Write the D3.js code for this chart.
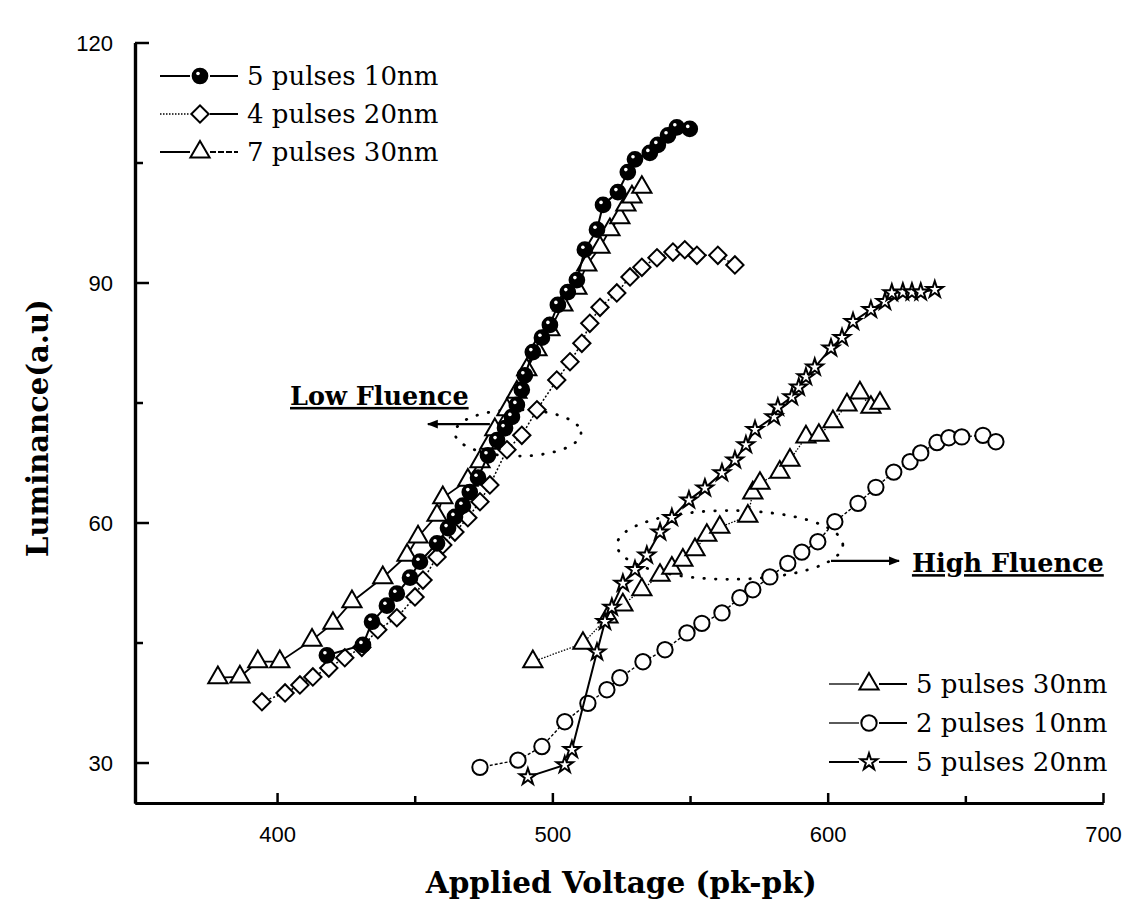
<!DOCTYPE html>
<html>
<head>
<meta charset="utf-8">
<script src="https://cdn.jsdelivr.net/npm/d3@7"></script>
<style>
    body { margin: 0; background: #fff; }
    .tick text { font-family: "Liberation Sans", Arial, sans-serif; font-size: 22px; fill: #000; }
    .serif { font-family: "DejaVu Serif", serif; fill: #000; }
</style>
</head>
<body>
<div id="viz"></div>
<script>
// ---- values: [voltage, luminance] ----
var pulses5_10nm = [[418.1,43.4],[431.2,44.7],[434.5,47.6],[439.9,49.6],[443.5,51.1],[448.3,53.1],
    [451.9,55.1],[458.1,57.4],[462.1,59.3],[464.6,60.7],[467.5,62.1],[470.0,63.8],[473.0,65.6],
    [476.6,68.4],[479.9,70.3],[482.8,71.8],[485.3,73.2],[487.1,74.7],[488.9,76.6],[490.0,78.4],
    [492.9,81.3],[496.2,83.1],[499.1,84.7],[502.0,87.2],[505.6,88.8],[508.9,90.3],[511.8,94.1],
    [516.2,96.6],[518.4,99.7],[523.8,101.3],[527.4,103.8],[530.0,105.4],[535.4,106.2],[538.3,107.2],
    [542.0,108.4],[545.2,109.4],[549.9,109.2]];
var pulses4_20nm = [[394.5,37.6],[402.9,38.7],[408.3,39.7],[413.0,40.7],[418.8,41.8],[424.6,43.1],
    [430.8,44.4],[436.6,46.6],[443.5,48.1],[450.1,50.7],[453.0,52.8],[458.1,55.7],[460.2,57.2],
    [464.6,58.8],[469.3,60.6],[473.7,62.6],[477.3,64.7],[483.5,69.1],[488.9,70.9],[494.4,74.1],
    [501.6,77.8],[506.4,80.1],[510.7,82.4],[513.6,84.9],[517.3,86.9],[523.4,88.7],[528.2,90.7],
    [532.5,91.9],[538.0,93.1],[543.8,93.8],[548.1,94.1],[552.5,93.4],[560.1,93.4],[566.3,92.2]];
var pulses7_30nm = [[378.5,40.6],[386.5,40.7],[393.0,42.6],[401.0,42.6],[412.7,45.3],[420.3,47.4],
    [427.2,50.1],[438.4,53.1],[447.2,55.9],[451.2,58.2],[458.1,60.9],[460.2,63.1],[469.3,65.3],
    [473.7,67.6],[477.3,69.9],[479.1,71.6],[483.5,74.1],[487.1,76.3],[490.7,79.1],[494.4,81.6],
    [499.1,84.1],[503.8,87.2],[508.9,89.3],[512.5,92.2],[517.3,94.4],[520.9,96.6],[524.5,98.1],
    [526.7,99.7],[528.9,100.7],[532.5,101.9]];
var pulses5_30nm = [[492.9,42.6],[511.1,44.9],[520.2,48.2],[525.6,49.7],[532.5,51.6],[539.1,53.4],
    [543.4,54.3],[547.4,55.3],[551.8,56.6],[556.1,58.4],[560.8,59.4],[571.0,60.8],[572.8,63.7],
    [575.4,64.9],[582.6,66.3],[586.3,67.8],[592.1,70.7],[596.8,70.9],[601.9,72.6],[607.0,74.7],
    [611.7,76.2],[615.7,74.4],[619.0,74.9]];
var pulses2_10nm = [[473.7,29.4],[487.5,30.3],[496.2,32.0],[504.5,35.1],[512.9,37.4],[519.8,39.1],
    [524.5,40.6],[532.9,42.6],[540.9,44.1],[548.9,46.2],[554.3,47.4],[561.6,48.7],[568.1,50.6],
    [572.8,51.6],[579.0,53.2],[585.5,54.9],[590.6,56.3],[596.4,57.6],[602.6,60.1],[611.0,62.4],
    [617.5,64.4],[624.0,66.3],[629.9,67.6],[633.8,68.7],[639.7,70.0],[644.0,70.6],[648.7,70.7],
    [656.4,70.9],[661.1,70.1]];
var pulses5_20nm = [[491.1,28.2],[504.5,29.7],[507.1,31.6],[516.2,43.8],[519.1,47.6],[521.6,49.4],
    [525.6,52.4],[530.0,54.1],[534.3,55.9],[539.1,58.8],[543.4,60.6],[549.6,62.8],[555.4,64.3],
    [561.6,66.2],[566.3,67.8],[570.3,69.7],[573.6,71.6],[580.5,73.2],[581.9,74.4],[587.0,75.7],
    [589.5,76.9],[592.1,78.2],[595.3,79.4],[601.2,81.8],[605.2,83.1],[609.2,85.1],[615.7,86.6],
    [620.8,87.6],[623.3,88.7],[627.3,88.8],[630.6,88.8],[633.8,88.8],[638.9,89.1]];

var seriesNames = ["5 pulses 10nm", "4 pulses 20nm", "7 pulses 30nm",
                   "5 pulses 30nm", "2 pulses 10nm", "5 pulses 20nm"];
var xTicks = [400, 500, 600, 700];
var xMinorTicks = [450, 550, 650];
var yTicks = [30, 60, 90, 120];
var yMinorTicks = [45, 75, 105];

var W = 1127, H = 903;

var svg = d3.select('#viz')
    .append('svg')
    .attr('width', W)
    .attr('height', H)
    ;

var xScale = d3.scaleLinear().domain([348.4, 700]).range([135, 1103]);
var yScale = d3.scaleLinear().domain([24.94, 120]).range([803, 42.5]);

// styles per series (marker, line dash)
var series = [
    {name: seriesNames[3], data: pulses5_30nm, sym: d3.symbolTriangle, size: 160, dash: '1.5,1.5', lw: 1.3, fill: '#fff', rot: 0},
    {name: seriesNames[4], data: pulses2_10nm, sym: d3.symbolCircle, size: 185, dash: '3,2', lw: 1.4, fill: '#fff', rot: 0},
    {name: seriesNames[5], data: pulses5_20nm, sym: d3.symbolStar, size: 85, dash: null, lw: 2, fill: '#fff', rot: 0},
    {name: seriesNames[1], data: pulses4_20nm, sym: d3.symbolSquare, size: 150, dash: '2,2', lw: 1.5, fill: '#fff', rot: 45},
    {name: seriesNames[2], data: pulses7_30nm, sym: d3.symbolTriangle, size: 160, dash: null, lw: 1.8, fill: '#fff', rot: 0},
    {name: seriesNames[0], data: pulses5_10nm, sym: d3.symbolCircle, size: 170, dash: null, lw: 2, fill: '#000', rot: 0}
];

/*----- AXES -----*/
var yAxis = d3.axisLeft(yScale).tickValues(yTicks).tickSizeInner(-14).tickSizeOuter(0).tickPadding(22);
var yMinor = d3.axisLeft(yScale).tickValues(yMinorTicks).tickSizeInner(-8).tickSizeOuter(0).tickFormat('');
var xAxis = d3.axisBottom(xScale).tickValues(xTicks).tickSizeInner(-10).tickSizeOuter(0).tickPadding(23);
var xMinor = d3.axisBottom(xScale).tickValues(xMinorTicks).tickSizeInner(-7).tickSizeOuter(0).tickFormat('');

var gy = svg.append('g').attr('transform', 'translate(' + xScale.range()[0] + ',0)').call(yAxis);
svg.append('g').attr('transform', 'translate(' + xScale.range()[0] + ',0)').call(yMinor);
var gx = svg.append('g').attr('transform', 'translate(0,' + yScale.range()[0] + ')').call(xAxis);
svg.append('g').attr('transform', 'translate(0,' + yScale.range()[0] + ')').call(xMinor);

svg.selectAll('.domain').attr('stroke', '#000').attr('stroke-width', 3.2);
svg.selectAll('.tick line').attr('stroke', '#000').attr('stroke-width', 2.5);
gy.selectAll('.tick text').attr('dy', '0.36em');

svg.append('text')
    .attr('class', 'serif')
    .attr('transform', 'translate(48,' + yScale(71.8) + ') rotate(-90)')
    .attr('text-anchor', 'middle')
    .style('font-size', '29px')
    .style('font-weight', 'bold')
    .text('Luminance(a.u)')
    ;
svg.append('text')
    .attr('class', 'serif')
    .attr('x', xScale(525))
    .attr('y', 893)
    .attr('text-anchor', 'middle')
    .style('font-size', '29.5px')
    .style('font-weight', 'bold')
    .text('Applied Voltage (pk-pk)')
    ;

/*----- ANNOTATIONS (data coordinates) -----*/
var ellipses = [
    {cx: 487.5, cy: 71.2, rx: 22.9, ry: 2.9},
    {cx: 564.5, cy: 57.2, rx: 41.0, ry: 4.3}
];
svg.selectAll('.fluence')
    .data(ellipses)
    .enter()
    .append('ellipse')
    .attr('cx', function(d) { return xScale(d.cx); })
    .attr('cy', function(d) { return yScale(d.cy); })
    .attr('rx', function(d) { return xScale(d.cx + d.rx) - xScale(d.cx); })
    .attr('ry', function(d) { return yScale(d.cy - d.ry) - yScale(d.cy); })
    .attr('fill', 'none')
    .attr('stroke', '#000')
    .attr('stroke-width', 2.8)
    .attr('stroke-linecap', 'round')
    .attr('stroke-dasharray', '0.5,11')
    ;

svg.append('defs').append('marker')
    .attr('id', 'head')
    .attr('viewBox', '0 0 10 10')
    .attr('refX', 9).attr('refY', 5)
    .attr('markerWidth', 7).attr('markerHeight', 5)
    .attr('markerUnits', 'strokeWidth')
    .attr('orient', 'auto')
    .append('path')
    .attr('d', 'M0,1 L10,5 L0,9 Z')
    .attr('fill', '#000')
    ;

var arrows = [
    {x1: 477.3, x2: 454.8, y: 72.3},
    {x1: 601.2, x2: 625.9, y: 55.2}
];
svg.selectAll('.arrow')
    .data(arrows)
    .enter()
    .append('line')
    .attr('x1', function(d) { return xScale(d.x1); })
    .attr('x2', function(d) { return xScale(d.x2); })
    .attr('y1', function(d) { return yScale(d.y); })
    .attr('y2', function(d) { return yScale(d.y); })
    .attr('stroke', '#000')
    .attr('stroke-width', 2.2)
    .attr('marker-end', 'url(#head)')
    ;

var notes = [
    {text: 'Low Fluence', x: 404.7, y: 74.7},
    {text: 'High Fluence', x: 630.6, y: 53.8}
];
svg.selectAll('.note')
    .data(notes)
    .enter()
    .append('text')
    .attr('class', 'serif')
    .attr('x', function(d) { return xScale(d.x); })
    .attr('y', function(d) { return yScale(d.y); })
    .style('font-size', '25.5px')
    .style('font-weight', 'bold')
    .style('text-decoration', 'underline')
    .text(function(d) { return d.text; })
    ;

/*----- SERIES -----*/
var line = d3.line()
    .x(function(d) { return xScale(d[0]); })
    .y(function(d) { return yScale(d[1]); })
    ;

function drawMarker(g, s) {
    g.append('path')
        .attr('d', d3.symbol().type(s.sym).size(s.size))
        .attr('transform', 'rotate(' + s.rot + ')')
        .attr('fill', s.fill)
        .attr('stroke', '#000')
        .attr('stroke-width', 2)
        ;
    if (s.fill == '#000') {
        g.append('circle').attr('cx', -2).attr('cy', -2.5).attr('r', 1.8).attr('fill', '#fff');
    }
}

series.forEach(function(s) {
    svg.append('path')
        .datum(s.data)
        .attr('d', line)
        .attr('fill', 'none')
        .attr('stroke', '#000')
        .attr('stroke-width', s.lw)
        .attr('stroke-dasharray', s.dash)
        ;
    svg.selectAll(null)
        .data(s.data)
        .enter()
        .append('g')
        .attr('transform', function(d) { return 'translate(' + xScale(d[0]) + ',' + yScale(d[1]) + ')'; })
        .each(function() { drawMarker(d3.select(this), s); })
        ;
});

/*----- LEGENDS -----*/
function legend(items, x0, y0, dy) {
    items.forEach(function(s, i) {
        var y = y0 + i * dy;
        var g = svg.append('g').attr('transform', 'translate(' + x0 + ',' + y + ')');
        g.append('line').attr('x1', 0).attr('x2', 30).attr('y1', 0).attr('y2', 0)
            .attr('stroke', '#000').attr('stroke-width', s.dash ? 1.3 : 2)
            .attr('stroke-dasharray', s.sym == d3.symbolSquare ? '1.5,1.5' : null);
        g.append('line').attr('x1', 50).attr('x2', 78).attr('y1', 0).attr('y2', 0)
            .attr('stroke', '#000').attr('stroke-width', 2)
            .attr('stroke-dasharray', s.sym == d3.symbolTriangle && s.lw > 1.5 ? '6,2' : null);
        var m = g.append('g').attr('transform', 'translate(40,0)');
        drawMarker(m, s);
        g.append('text')
            .attr('class', 'serif')
            .attr('x', 87)
            .attr('y', 9)
            .style('font-size', '26px')
            .text(s.name);
    });
}
legend([series[5], series[3], series[4]], 160, 76, 38);
legend([series[0], series[1], series[2]], 829, 684, 39);
</script>
</body>
</html>
